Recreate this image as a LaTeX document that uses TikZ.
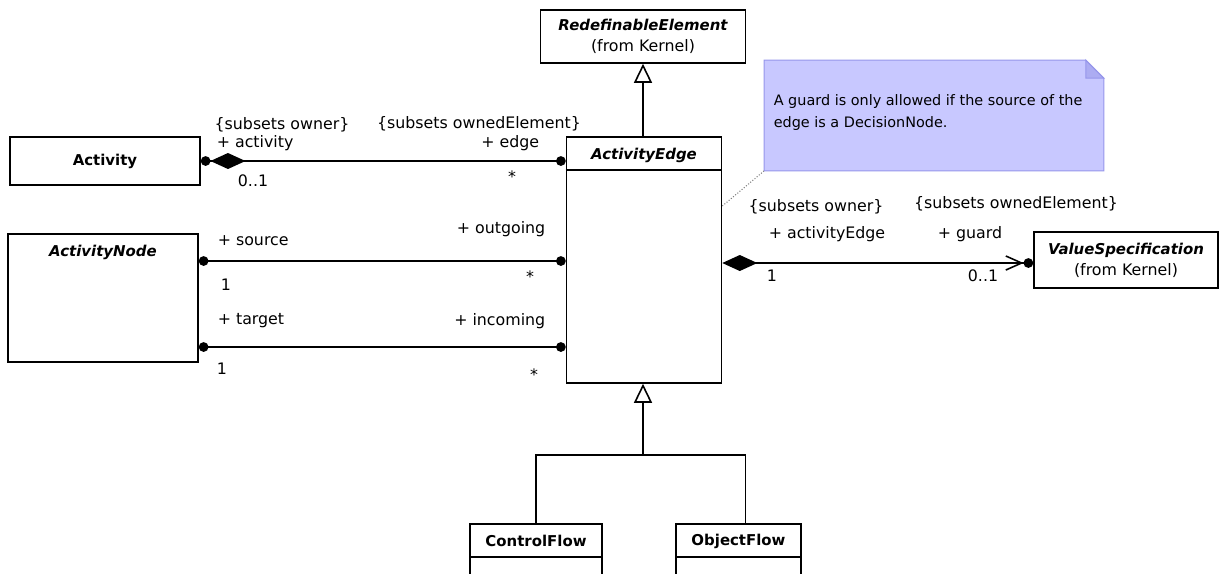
\documentclass[tikz,border=0pt]{standalone}
\usepackage{fontspec}
\setmainfont{DejaVu Sans}
\usetikzlibrary{arrows.meta}
\definecolor{notefill}{RGB}{200,200,255}
\definecolor{noteline}{RGB}{150,150,235}
\definecolor{notefold}{RGB}{172,172,242}
\tikzset{
  dotend/.tip={Circle[length=5.5pt]},
  compend/.tip={Diamond[length=7mm,width=3.2mm]},
  navend/.tip={Straight Barb[length=9pt,width=8pt]}
}
\begin{document}
\begin{tikzpicture}[x=0.2mm,y=0.2mm,line width=0.9pt]
\tikzstyle{every node}+=[inner sep=0pt, font=\fontsize{9}{12}\selectfont]
\tikzstyle{cls}=[draw, rectangle, font=\fontsize{8.5}{12}\selectfont\bfseries]
\tikzstyle{abst}=[font=\fontsize{8.5}{12}\selectfont\bfseries\itshape]
\tikzstyle{gen}=[-{Triangle[open,length=3.8mm,width=3.6mm]}]
\useasboundingbox (0,0) rectangle (1221,-573);
\clip (0,0) rectangle (1221,-573);
% classes
\node [cls, minimum width=38mm, minimum height=9.6mm] (activity) at (105,-161) {Activity};
\node [cls, minimum width=38mm, minimum height=25.6mm] (actnode) at (103,-298) {};
\node [abst] (actnodename) at (103,-252) {ActivityNode};
\node [cls, minimum width=31mm, minimum height=49.2mm] (edge) at (644,-260) {};
\node [abst] (edgename) at (644,-155) {ActivityEdge};
\draw (edge.west |- 0,-170) -- (edge.east |- 0,-170);
\node [draw, minimum width=41mm, minimum height=10.6mm, align=center] (redef) at (643,-36.5)
  {{\fontsize{8.5}{12}\selectfont\bfseries\itshape RedefinableElement}\\(from Kernel)};
\node [draw, minimum width=36.8mm, minimum height=11.2mm, align=center] (vspec) at (1126,-260)
  {{\fontsize{8.5}{12}\selectfont\bfseries\itshape ValueSpecification}\\(from Kernel)};
\node [cls, minimum width=26.4mm, minimum height=16mm] (cflow) at (536,-564) {};
\node [cls, draw=none] (cflowname) at (536,-541) {ControlFlow};
\draw (cflow.west |- 0,-557) -- (cflow.east |- 0,-557);
\node [cls, minimum width=25mm, minimum height=16mm] (oflow) at (738.5,-564) {};
\node [cls, draw=none] (oflowname) at (738.5,-541) {ObjectFlow};
\draw (oflow.west |- 0,-557) -- (oflow.east |- 0,-557);
% generalizations
\draw [gen] (edge.north -| redef.south) -- (redef.south);
\coordinate (join) at (643,-455);
\draw (cflow.north) |- (join) -| ([xshift=1.4mm]oflow.north);
\draw [gen] (join) -- (join |- edge.south);
% note
\node [minimum width=67.6mm, minimum height=21.8mm] (note) at (934,-115.5) {};
\draw [noteline, fill=notefill, line width=0.6pt] (note.south west) -- (note.north west)
  -- ([xshift=-3.6mm]note.north east) -- ([yshift=-3.6mm]note.north east) -- (note.south east) -- cycle;
\draw [noteline, fill=notefold, line width=0.6pt] ([xshift=-3.6mm]note.north east)
  -- ([xshift=-3.6mm,yshift=-3.6mm]note.north east) -- ([yshift=-3.6mm]note.north east) -- cycle;
\node [anchor=west, align=left, font=\fontsize{8.2}{13}\selectfont] (notetext) at (773,-112.5)
  {A guard is only allowed if the source of the\\edge is a DecisionNode.};
\draw [gray, densely dotted, line width=0.6pt] (edge.east |- 0,-206) -- (note.south west);
% associations
\draw [{dotend[] compend[]}-{dotend[]}] (activity.east) -- (activity.east -| edge.west);
\node (l1) at (282,-125) {\{subsets owner\}};
\node [anchor=west] (l2) at (216,-143) {+ activity};
\node (l3) at (253,-181) {0..1};
\node (l4) at (479,-124) {\{subsets ownedElement\}};
\node [anchor=east] (l5) at (540,-143) {+ edge};
\node (l6) at (512,-177) {*};
\draw [{dotend[]}-{dotend[]}] (actnode.east |- 0,-261) -- (edge.west |- 0,-261);
\node [anchor=west] (l7) at (217,-241) {+ source};
\node (l8) at (226,-285) {1};
\node [anchor=east] (l9) at (546,-229) {+ outgoing};
\node (l10) at (530,-277) {*};
\draw [{dotend[]}-{dotend[]}] (actnode.east |- 0,-347) -- (edge.west |- 0,-347);
\node [anchor=west] (l11) at (217,-321) {+ target};
\node (l12) at (222,-369) {1};
\node [anchor=east] (l13) at (546,-321) {+ incoming};
\node (l14) at (534,-375) {*};
\draw [{compend[]}-{navend[] dotend[]}] (edge.east |- 0,-263) -- (vspec.west |- 0,-263);
\node (l15) at (816,-207) {\{subsets owner\}};
\node (l16) at (827,-234) {+ activityEdge};
\node (l17) at (772,-276) {1};
\node (l18) at (1016,-204) {\{subsets ownedElement\}};
\node (l19) at (970,-234) {+ guard};
\node (l20) at (983,-276) {0..1};
\end{tikzpicture}
\end{document}
